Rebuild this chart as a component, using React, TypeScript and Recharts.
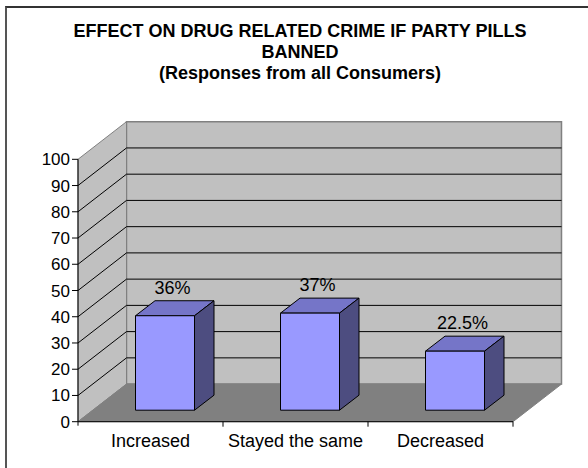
import React from 'react';
import { BarChart, Bar, XAxis, YAxis, CartesianGrid, LabelList } from 'recharts';

// values
const categories = ['Increased', 'Stayed the same', 'Decreased'];
const responses = [36, 37, 22.5];
const yTicks = [0, 10, 20, 30, 40, 50, 60, 70, 80, 90, 100];
const titleLines = [
  'EFFECT ON DRUG RELATED CRIME IF PARTY PILLS',
  'BANNED',
  '(Responses from all Consumers)',
];

const data = categories.map((name, i) => ({ name, value: responses[i] }));

const FONT = '"Liberation Sans", Arial, sans-serif';
const W = 588;
const H = 468;
const PLOT_TOP = 159.3;
const PLOT_BOTTOM = 421.7;

// 3d look: depth of the walls and of the bars
const WALL_DX = 48.5;
const WALL_DY = 37.6;
const BAR_SHIFT_X = 14.5;
const BAR_SHIFT_Y = 11.5;
const BAR_DX = 19.5;
const BAR_DY = 15;

const renderGridLine = (props: any) => {
  const { x1, x2, y1, index } = props;
  const top = props.y !== undefined ? props.y : PLOT_TOP;
  const bottom = props.height !== undefined ? top + props.height : PLOT_BOTTOM;
  const isBottom = Math.abs(y1 - bottom) < 1;
  const isTop = Math.abs(y1 - top) < 1;
  return (
    <g key={`hl-${index}`}>
      {index === 0 && (
        <g>
          {/* back wall */}
          <polygon
            points={`${x1 + WALL_DX},${top - WALL_DY} ${x2 + WALL_DX},${top - WALL_DY} ${x2 + WALL_DX},${bottom - WALL_DY} ${x1 + WALL_DX},${bottom - WALL_DY}`}
            fill="#c0c0c0"
            stroke="#808080"
            strokeWidth={1.5}
          />
          {/* side wall */}
          <polygon
            points={`${x1},${top} ${x1 + WALL_DX},${top - WALL_DY} ${x1 + WALL_DX},${bottom - WALL_DY} ${x1},${bottom}`}
            fill="#c0c0c0"
            stroke="#808080"
            strokeWidth={1}
          />
          {/* floor */}
          <polygon
            points={`${x1},${bottom} ${x2},${bottom} ${x2 + WALL_DX},${bottom - WALL_DY} ${x1 + WALL_DX},${bottom - WALL_DY}`}
            fill="#808080"
            stroke="#808080"
            strokeWidth={1}
          />
        </g>
      )}
      {!isBottom && !isTop && (
        <g>
          <line x1={x1} y1={y1} x2={x1 + WALL_DX} y2={y1 - WALL_DY} stroke="#000" strokeWidth={1} />
          <line x1={x1 + WALL_DX} y1={y1 - WALL_DY} x2={x2 + WALL_DX} y2={y1 - WALL_DY} stroke="#000" strokeWidth={1} />
        </g>
      )}
    </g>
  );
};

const Bar3D = (props: any) => {
  const { x, y, width, height } = props;
  if (!height) return null;
  const sx = x + BAR_SHIFT_X;
  const sy = y - BAR_SHIFT_Y;
  const right = sx + width;
  const bot = sy + height;
  return (
    <g stroke="#000" strokeWidth={1} strokeLinejoin="round">
      <polygon points={`${sx},${sy} ${sx + BAR_DX},${sy - BAR_DY} ${right + BAR_DX},${sy - BAR_DY} ${right},${sy}`} fill="#7575c8" />
      <polygon points={`${right},${sy} ${right + BAR_DX},${sy - BAR_DY} ${right + BAR_DX},${bot - BAR_DY} ${right},${bot}`} fill="#4d4d80" />
      <rect x={sx} y={sy} width={width} height={height} fill="#9999ff" />
    </g>
  );
};

const renderValueLabel = (props: any) => {
  const { x, y, width, value } = props;
  return (
    <text x={x + width / 2 + 22} y={y - 33.5} textAnchor="middle" fontSize={18} fontFamily={FONT} fill="#000">
      {`${value}%`}
    </text>
  );
};

const CategoryTick = (props: any) => {
  const { x, y, payload, index } = props;
  const half = payload && payload.offset ? payload.offset : 72.5;
  return (
    <g>
      {index === 0 && <line x1={x - half} y1={PLOT_BOTTOM} x2={x - half} y2={PLOT_BOTTOM + 4} stroke="#000" />}
      <line x1={x + half} y1={PLOT_BOTTOM} x2={x + half} y2={PLOT_BOTTOM + 5} stroke="#000" />
      <text x={x} y={PLOT_BOTTOM + 25} textAnchor="middle" fontSize={18} fontFamily={FONT} fill="#000">
        {payload.value}
      </text>
    </g>
  );
};

const App: React.FC = () => {
  return (
    <div style={{ position: 'absolute', left: 0, top: 0, width: W, height: H, overflow: 'hidden', background: '#fff' }}>
      <div
        style={{
          position: 'absolute',
          left: 5,
          top: 6,
          width: 640,
          height: 520,
          borderLeft: '2px solid #555',
          borderTop: '2px solid #333',
        }}
      />
      <div
        style={{
          position: 'absolute',
          left: 0,
          top: 21,
          width: 600,
          textAlign: 'center',
          fontFamily: FONT,
          fontWeight: 'bold',
          fontSize: 18,
          lineHeight: '21px',
          color: '#000',
        }}
      >
        {titleLines.map((t) => (
          <div key={t}>{t}</div>
        ))}
      </div>
      <div style={{ position: 'absolute', left: 0, top: 0 }}>
        <BarChart
          width={W}
          height={H}
          data={data}
          margin={{ top: PLOT_TOP, right: 75, bottom: 16.3, left: 8 }}
          barSize={59}
        >
          <CartesianGrid horizontal={renderGridLine} vertical={false} />
          <XAxis
            dataKey="name"
            height={30}
            axisLine={{ stroke: '#000' }}
            tickLine={false}
            tick={<CategoryTick />}
            interval={0}
          />
          <YAxis
            type="number"
            domain={[0, 100]}
            ticks={yTicks}
            width={70}
            axisLine={{ stroke: '#000' }}
            tickLine={{ stroke: '#000' }}
            tickSize={6}
            tick={{ fontSize: 17, fontFamily: FONT, fill: '#000' }}
          />
          <Bar dataKey="value" shape={<Bar3D />} isAnimationActive={false}>
            <LabelList dataKey="value" content={renderValueLabel} />
          </Bar>
        </BarChart>
      </div>
    </div>
  );
};

export default App;
